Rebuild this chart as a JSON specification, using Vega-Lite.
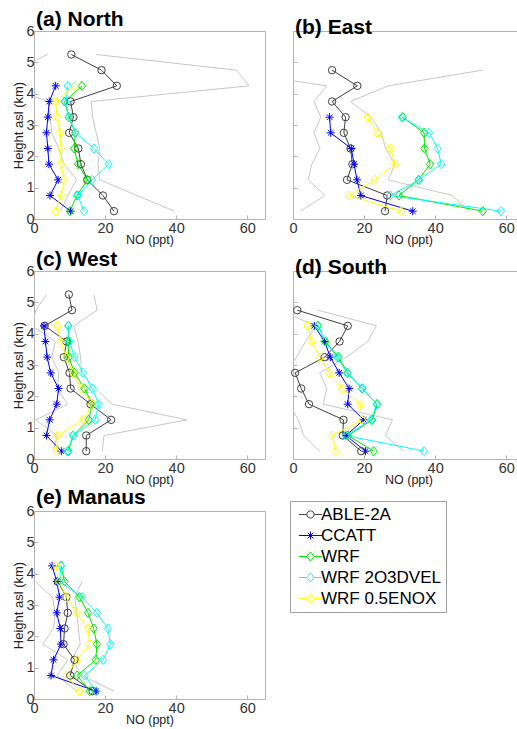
{
"$schema": "https://vega.github.io/schema/vega-lite/v6.json",
"padding": {"left": 12, "top": 8, "right": 0, "bottom": 0},
"datasets": {
"prof": [
{"p":"a","s":"ABLE-2A","h":0.25,"no":22.5},{"p":"a","s":"ABLE-2A","h":0.75,"no":19.4},{"p":"a","s":"ABLE-2A","h":1.25,"no":15.0},{"p":"a","s":"ABLE-2A","h":1.75,"no":13.2},{"p":"a","s":"ABLE-2A","h":2.25,"no":12.5},{"p":"a","s":"ABLE-2A","h":2.75,"no":9.9},{"p":"a","s":"ABLE-2A","h":3.25,"no":11.1},{"p":"a","s":"ABLE-2A","h":3.75,"no":10.3},{"p":"a","s":"ABLE-2A","h":4.25,"no":23.3},{"p":"a","s":"ABLE-2A","h":4.75,"no":19.0},{"p":"a","s":"ABLE-2A","h":5.25,"no":10.5},
{"p":"a","s":"CCATT","h":0.25,"no":10.3},{"p":"a","s":"CCATT","h":0.75,"no":4.5},{"p":"a","s":"CCATT","h":1.25,"no":6.8},{"p":"a","s":"CCATT","h":1.75,"no":4.2},{"p":"a","s":"CCATT","h":2.25,"no":3.9},{"p":"a","s":"CCATT","h":2.75,"no":3.5},{"p":"a","s":"CCATT","h":3.25,"no":3.9},{"p":"a","s":"CCATT","h":3.75,"no":4.3},{"p":"a","s":"CCATT","h":4.25,"no":6.1},
{"p":"a","s":"WRF","h":0.25,"no":10.1},{"p":"a","s":"WRF","h":0.75,"no":12.1},{"p":"a","s":"WRF","h":1.25,"no":15.0},{"p":"a","s":"WRF","h":1.75,"no":12.4},{"p":"a","s":"WRF","h":2.25,"no":11.3},{"p":"a","s":"WRF","h":2.75,"no":11.6},{"p":"a","s":"WRF","h":3.25,"no":9.8},{"p":"a","s":"WRF","h":3.75,"no":8.6},{"p":"a","s":"WRF","h":4.25,"no":13.5},
{"p":"a","s":"WRF 2O3DVEL","h":0.25,"no":14.1},{"p":"a","s":"WRF 2O3DVEL","h":0.75,"no":12.3},{"p":"a","s":"WRF 2O3DVEL","h":1.25,"no":16.4},{"p":"a","s":"WRF 2O3DVEL","h":1.75,"no":21.0},{"p":"a","s":"WRF 2O3DVEL","h":2.25,"no":16.9},{"p":"a","s":"WRF 2O3DVEL","h":2.75,"no":11.7},{"p":"a","s":"WRF 2O3DVEL","h":3.25,"no":9.7},{"p":"a","s":"WRF 2O3DVEL","h":3.75,"no":9.0},{"p":"a","s":"WRF 2O3DVEL","h":4.25,"no":9.5},
{"p":"a","s":"WRF 0.5ENOX","h":0.25,"no":6.1},{"p":"a","s":"WRF 0.5ENOX","h":0.75,"no":7.6},{"p":"a","s":"WRF 0.5ENOX","h":1.25,"no":8.5},{"p":"a","s":"WRF 0.5ENOX","h":1.75,"no":7.6},{"p":"a","s":"WRF 0.5ENOX","h":2.25,"no":7.6},{"p":"a","s":"WRF 0.5ENOX","h":2.75,"no":7.4},{"p":"a","s":"WRF 0.5ENOX","h":3.25,"no":6.5},{"p":"a","s":"WRF 0.5ENOX","h":3.75,"no":6.1},{"p":"a","s":"WRF 0.5ENOX","h":4.25,"no":11.4},

{"p":"b","s":"ABLE-2A","h":0.25,"no":25.9},{"p":"b","s":"ABLE-2A","h":0.75,"no":26.5},{"p":"b","s":"ABLE-2A","h":1.25,"no":15.2},{"p":"b","s":"ABLE-2A","h":1.75,"no":16.7},{"p":"b","s":"ABLE-2A","h":2.25,"no":16.2},{"p":"b","s":"ABLE-2A","h":2.75,"no":14.3},{"p":"b","s":"ABLE-2A","h":3.25,"no":14.8},{"p":"b","s":"ABLE-2A","h":3.75,"no":11.0},{"p":"b","s":"ABLE-2A","h":4.25,"no":18.1},{"p":"b","s":"ABLE-2A","h":4.75,"no":11.0},
{"p":"b","s":"CCATT","h":0.25,"no":33.7},{"p":"b","s":"CCATT","h":0.75,"no":19.1},{"p":"b","s":"CCATT","h":1.25,"no":18.0},{"p":"b","s":"CCATT","h":1.75,"no":17.2},{"p":"b","s":"CCATT","h":2.25,"no":16.4},{"p":"b","s":"CCATT","h":2.75,"no":10.6},{"p":"b","s":"CCATT","h":3.25,"no":10.3},
{"p":"b","s":"WRF","h":0.25,"no":53.4},{"p":"b","s":"WRF","h":0.75,"no":29.8},{"p":"b","s":"WRF","h":1.25,"no":35.3},{"p":"b","s":"WRF","h":1.75,"no":38.6},{"p":"b","s":"WRF","h":2.25,"no":37.0},{"p":"b","s":"WRF","h":2.75,"no":36.9},{"p":"b","s":"WRF","h":3.25,"no":30.9},
{"p":"b","s":"WRF 2O3DVEL","h":0.25,"no":58.5},{"p":"b","s":"WRF 2O3DVEL","h":0.75,"no":27.4},{"p":"b","s":"WRF 2O3DVEL","h":1.25,"no":35.5},{"p":"b","s":"WRF 2O3DVEL","h":1.75,"no":41.7},{"p":"b","s":"WRF 2O3DVEL","h":2.25,"no":40.7},{"p":"b","s":"WRF 2O3DVEL","h":2.75,"no":38.3},{"p":"b","s":"WRF 2O3DVEL","h":3.25,"no":30.6},
{"p":"b","s":"WRF 0.5ENOX","h":0.25,"no":30.4},{"p":"b","s":"WRF 0.5ENOX","h":0.75,"no":15.7},{"p":"b","s":"WRF 0.5ENOX","h":1.25,"no":23.0},{"p":"b","s":"WRF 0.5ENOX","h":1.75,"no":28.7},{"p":"b","s":"WRF 0.5ENOX","h":2.25,"no":27.4},{"p":"b","s":"WRF 0.5ENOX","h":2.75,"no":23.7},{"p":"b","s":"WRF 0.5ENOX","h":3.25,"no":21.0},

{"p":"c","s":"ABLE-2A","h":0.25,"no":14.7},{"p":"c","s":"ABLE-2A","h":0.75,"no":14.7},{"p":"c","s":"ABLE-2A","h":1.25,"no":21.7},{"p":"c","s":"ABLE-2A","h":1.75,"no":15.9},{"p":"c","s":"ABLE-2A","h":2.25,"no":10.3},{"p":"c","s":"ABLE-2A","h":2.75,"no":10.0},{"p":"c","s":"ABLE-2A","h":3.25,"no":8.4},{"p":"c","s":"ABLE-2A","h":3.75,"no":9.2},{"p":"c","s":"ABLE-2A","h":4.25,"no":3.0},{"p":"c","s":"ABLE-2A","h":4.75,"no":10.7},{"p":"c","s":"ABLE-2A","h":5.25,"no":9.8},
{"p":"c","s":"CCATT","h":0.25,"no":7.7},{"p":"c","s":"CCATT","h":0.75,"no":3.5},{"p":"c","s":"CCATT","h":1.25,"no":4.4},{"p":"c","s":"CCATT","h":1.75,"no":6.4},{"p":"c","s":"CCATT","h":2.25,"no":6.9},{"p":"c","s":"CCATT","h":2.75,"no":4.7},{"p":"c","s":"CCATT","h":3.25,"no":3.7},{"p":"c","s":"CCATT","h":3.75,"no":3.2},{"p":"c","s":"CCATT","h":4.25,"no":2.8},
{"p":"c","s":"WRF","h":0.25,"no":9.7},{"p":"c","s":"WRF","h":0.75,"no":11.0},{"p":"c","s":"WRF","h":1.25,"no":15.4},{"p":"c","s":"WRF","h":1.75,"no":16.4},{"p":"c","s":"WRF","h":2.25,"no":14.2},{"p":"c","s":"WRF","h":2.75,"no":11.4},{"p":"c","s":"WRF","h":3.25,"no":9.8},{"p":"c","s":"WRF","h":3.75,"no":9.6},{"p":"c","s":"WRF","h":4.25,"no":9.7},
{"p":"c","s":"WRF 2O3DVEL","h":0.25,"no":9.4},{"p":"c","s":"WRF 2O3DVEL","h":0.75,"no":11.0},{"p":"c","s":"WRF 2O3DVEL","h":1.25,"no":17.2},{"p":"c","s":"WRF 2O3DVEL","h":1.75,"no":18.2},{"p":"c","s":"WRF 2O3DVEL","h":2.25,"no":16.4},{"p":"c","s":"WRF 2O3DVEL","h":2.75,"no":13.8},{"p":"c","s":"WRF 2O3DVEL","h":3.25,"no":11.4},{"p":"c","s":"WRF 2O3DVEL","h":3.75,"no":10.0},{"p":"c","s":"WRF 2O3DVEL","h":4.25,"no":9.6},
{"p":"c","s":"WRF 0.5ENOX","h":0.25,"no":6.3},{"p":"c","s":"WRF 0.5ENOX","h":0.75,"no":6.7},{"p":"c","s":"WRF 0.5ENOX","h":1.25,"no":13.8},{"p":"c","s":"WRF 0.5ENOX","h":1.75,"no":16.3},{"p":"c","s":"WRF 0.5ENOX","h":2.25,"no":13.3},{"p":"c","s":"WRF 0.5ENOX","h":2.75,"no":11.0},{"p":"c","s":"WRF 0.5ENOX","h":3.25,"no":9.1},{"p":"c","s":"WRF 0.5ENOX","h":3.75,"no":7.5},{"p":"c","s":"WRF 0.5ENOX","h":4.25,"no":6.6},

{"p":"d","s":"ABLE-2A","h":0.25,"no":19.2},{"p":"d","s":"ABLE-2A","h":0.75,"no":14.0},{"p":"d","s":"ABLE-2A","h":1.25,"no":14.2},{"p":"d","s":"ABLE-2A","h":1.75,"no":4.5},{"p":"d","s":"ABLE-2A","h":2.25,"no":2.3},{"p":"d","s":"ABLE-2A","h":2.75,"no":0.6},{"p":"d","s":"ABLE-2A","h":3.25,"no":8.9},{"p":"d","s":"ABLE-2A","h":3.75,"no":13.1},{"p":"d","s":"ABLE-2A","h":4.25,"no":15.4},{"p":"d","s":"ABLE-2A","h":4.75,"no":1.2},
{"p":"d","s":"CCATT","h":0.25,"no":20.4},{"p":"d","s":"CCATT","h":0.75,"no":14.9},{"p":"d","s":"CCATT","h":1.25,"no":19.9},{"p":"d","s":"CCATT","h":1.75,"no":15.4},{"p":"d","s":"CCATT","h":2.25,"no":15.8},{"p":"d","s":"CCATT","h":2.75,"no":13.0},{"p":"d","s":"CCATT","h":3.25,"no":10.5},{"p":"d","s":"CCATT","h":3.75,"no":8.9},{"p":"d","s":"CCATT","h":4.25,"no":6.0},
{"p":"d","s":"WRF","h":0.25,"no":22.7},{"p":"d","s":"WRF","h":0.75,"no":15.5},{"p":"d","s":"WRF","h":1.25,"no":22.3},{"p":"d","s":"WRF","h":1.75,"no":23.7},{"p":"d","s":"WRF","h":2.25,"no":19.4},{"p":"d","s":"WRF","h":2.75,"no":15.4},{"p":"d","s":"WRF","h":3.25,"no":12.8},{"p":"d","s":"WRF","h":3.75,"no":9.1},{"p":"d","s":"WRF","h":4.25,"no":7.0},
{"p":"d","s":"WRF 2O3DVEL","h":0.25,"no":36.9},{"p":"d","s":"WRF 2O3DVEL","h":0.75,"no":14.9},{"p":"d","s":"WRF 2O3DVEL","h":1.25,"no":22.0},{"p":"d","s":"WRF 2O3DVEL","h":1.75,"no":23.5},{"p":"d","s":"WRF 2O3DVEL","h":2.25,"no":19.6},{"p":"d","s":"WRF 2O3DVEL","h":2.75,"no":15.2},{"p":"d","s":"WRF 2O3DVEL","h":3.25,"no":12.4},{"p":"d","s":"WRF 2O3DVEL","h":3.75,"no":8.9},{"p":"d","s":"WRF 2O3DVEL","h":4.25,"no":7.2},
{"p":"d","s":"WRF 0.5ENOX","h":0.25,"no":12.1},{"p":"d","s":"WRF 0.5ENOX","h":0.75,"no":11.1},{"p":"d","s":"WRF 0.5ENOX","h":1.25,"no":19.4},{"p":"d","s":"WRF 0.5ENOX","h":1.75,"no":19.0},{"p":"d","s":"WRF 0.5ENOX","h":2.25,"no":13.8},{"p":"d","s":"WRF 0.5ENOX","h":2.75,"no":10.2},{"p":"d","s":"WRF 0.5ENOX","h":3.25,"no":7.6},{"p":"d","s":"WRF 0.5ENOX","h":3.75,"no":5.3},{"p":"d","s":"WRF 0.5ENOX","h":4.25,"no":4.1},

{"p":"e","s":"ABLE-2A","h":0.25,"no":16.5},{"p":"e","s":"ABLE-2A","h":0.75,"no":10.2},{"p":"e","s":"ABLE-2A","h":1.25,"no":11.4},{"p":"e","s":"ABLE-2A","h":1.75,"no":8.3},{"p":"e","s":"ABLE-2A","h":2.25,"no":8.6},{"p":"e","s":"ABLE-2A","h":2.75,"no":9.5},{"p":"e","s":"ABLE-2A","h":3.25,"no":9.1},{"p":"e","s":"ABLE-2A","h":3.75,"no":6.7},
{"p":"e","s":"CCATT","h":0.25,"no":17.5},{"p":"e","s":"CCATT","h":0.75,"no":4.8},{"p":"e","s":"CCATT","h":1.25,"no":5.5},{"p":"e","s":"CCATT","h":1.75,"no":7.6},{"p":"e","s":"CCATT","h":2.25,"no":7.4},{"p":"e","s":"CCATT","h":2.75,"no":6.4},{"p":"e","s":"CCATT","h":3.25,"no":7.2},{"p":"e","s":"CCATT","h":3.75,"no":6.4},{"p":"e","s":"CCATT","h":4.25,"no":5.1},
{"p":"e","s":"WRF","h":0.25,"no":15.7},{"p":"e","s":"WRF","h":0.75,"no":12.1},{"p":"e","s":"WRF","h":1.25,"no":17.4},{"p":"e","s":"WRF","h":1.75,"no":17.7},{"p":"e","s":"WRF","h":2.25,"no":16.8},{"p":"e","s":"WRF","h":2.75,"no":15.2},{"p":"e","s":"WRF","h":3.25,"no":12.8},{"p":"e","s":"WRF","h":3.75,"no":8.6},{"p":"e","s":"WRF","h":4.25,"no":7.6},
{"p":"e","s":"WRF 2O3DVEL","h":0.25,"no":17.5},{"p":"e","s":"WRF 2O3DVEL","h":0.75,"no":14.2},{"p":"e","s":"WRF 2O3DVEL","h":1.25,"no":19.4},{"p":"e","s":"WRF 2O3DVEL","h":1.75,"no":21.5},{"p":"e","s":"WRF 2O3DVEL","h":2.25,"no":20.8},{"p":"e","s":"WRF 2O3DVEL","h":2.75,"no":17.7},{"p":"e","s":"WRF 2O3DVEL","h":3.25,"no":13.6},{"p":"e","s":"WRF 2O3DVEL","h":3.75,"no":7.2},{"p":"e","s":"WRF 2O3DVEL","h":4.25,"no":7.6},
{"p":"e","s":"WRF 0.5ENOX","h":0.25,"no":12.8},{"p":"e","s":"WRF 0.5ENOX","h":0.75,"no":9.1},{"p":"e","s":"WRF 0.5ENOX","h":1.25,"no":12.1},{"p":"e","s":"WRF 0.5ENOX","h":1.75,"no":15.7},{"p":"e","s":"WRF 0.5ENOX","h":2.25,"no":15.2},{"p":"e","s":"WRF 0.5ENOX","h":2.75,"no":12.1},{"p":"e","s":"WRF 0.5ENOX","h":3.25,"no":9.1},{"p":"e","s":"WRF 0.5ENOX","h":3.75,"no":7.0},{"p":"e","s":"WRF 0.5ENOX","h":4.25,"no":6.2}
],
"env": [
{"p":"a","b":"lo","h":0.25,"no":7.5},{"p":"a","b":"lo","h":0.75,"no":9.5},{"p":"a","b":"lo","h":1.25,"no":12},{"p":"a","b":"lo","h":1.75,"no":8.5},{"p":"a","b":"lo","h":2.25,"no":7},{"p":"a","b":"lo","h":2.75,"no":5},{"p":"a","b":"lo","h":3.25,"no":4.5},{"p":"a","b":"lo","h":3.75,"no":3.9},{"p":"a","b":"lo","h":4.25,"no":-8},{"p":"a","b":"lo","h":4.75,"no":-5},{"p":"a","b":"lo","h":5.25,"no":3.8},
{"p":"a","b":"hi","h":0.25,"no":39.5},{"p":"a","b":"hi","h":0.75,"no":29},{"p":"a","b":"hi","h":1.25,"no":18.5},{"p":"a","b":"hi","h":1.75,"no":18},{"p":"a","b":"hi","h":2.25,"no":18.5},{"p":"a","b":"hi","h":2.75,"no":17.5},{"p":"a","b":"hi","h":3.25,"no":16.5},{"p":"a","b":"hi","h":3.75,"no":16.1},{"p":"a","b":"hi","h":4.25,"no":60.5},{"p":"a","b":"hi","h":4.75,"no":57},{"p":"a","b":"hi","h":5.25,"no":17.5},
{"p":"b","b":"lo","h":0.25,"no":2.0},{"p":"b","b":"lo","h":0.75,"no":9.0},{"p":"b","b":"lo","h":1.25,"no":4.3},{"p":"b","b":"lo","h":1.75,"no":5.3},{"p":"b","b":"lo","h":2.25,"no":7.6},{"p":"b","b":"lo","h":2.75,"no":5.9},{"p":"b","b":"lo","h":3.25,"no":7.8},{"p":"b","b":"lo","h":3.75,"no":5.9},{"p":"b","b":"lo","h":4.25,"no":9.5},{"p":"b","b":"lo","h":4.75,"no":-20},
{"p":"b","b":"hi","h":0.25,"no":49.5},{"p":"b","b":"hi","h":0.75,"no":44.8},{"p":"b","b":"hi","h":1.25,"no":26.8},{"p":"b","b":"hi","h":1.75,"no":28.7},{"p":"b","b":"hi","h":2.25,"no":26},{"p":"b","b":"hi","h":2.75,"no":24.9},{"p":"b","b":"hi","h":3.25,"no":21.9},{"p":"b","b":"hi","h":3.75,"no":16.2},{"p":"b","b":"hi","h":4.25,"no":26.8},{"p":"b","b":"hi","h":4.75,"no":53.3},
{"p":"c","b":"lo","h":0.25,"no":5.5},{"p":"c","b":"lo","h":0.75,"no":6.5},{"p":"c","b":"lo","h":1.25,"no":0.5},{"p":"c","b":"lo","h":1.75,"no":9.5},{"p":"c","b":"lo","h":2.25,"no":6.5},{"p":"c","b":"lo","h":2.75,"no":7.0},{"p":"c","b":"lo","h":3.25,"no":5.0},{"p":"c","b":"lo","h":3.75,"no":6.0},{"p":"c","b":"lo","h":4.25,"no":-0.5},{"p":"c","b":"lo","h":4.75,"no":0.5},{"p":"c","b":"lo","h":5.25,"no":3.5},
{"p":"c","b":"hi","h":0.25,"no":19.2},{"p":"c","b":"hi","h":0.75,"no":19.7},{"p":"c","b":"hi","h":1.25,"no":43},{"p":"c","b":"hi","h":1.75,"no":22},{"p":"c","b":"hi","h":2.25,"no":17.4},{"p":"c","b":"hi","h":2.75,"no":13.4},{"p":"c","b":"hi","h":3.25,"no":13.1},{"p":"c","b":"hi","h":3.75,"no":12.4},{"p":"c","b":"hi","h":4.25,"no":11.2},{"p":"c","b":"hi","h":4.75,"no":17.8},{"p":"c","b":"hi","h":5.25,"no":16.8},
{"p":"d","b":"lo","h":0.25,"no":7.5},{"p":"d","b":"lo","h":0.75,"no":3},{"p":"d","b":"lo","h":1.25,"no":1.5},{"p":"d","b":"lo","h":1.75,"no":-1},{"p":"d","b":"lo","h":2.25,"no":-3},{"p":"d","b":"lo","h":2.75,"no":-2},{"p":"d","b":"lo","h":3.25,"no":1},{"p":"d","b":"lo","h":3.75,"no":3.5},{"p":"d","b":"lo","h":4.25,"no":6.5},{"p":"d","b":"lo","h":4.75,"no":-4},
{"p":"d","b":"hi","h":0.25,"no":31},{"p":"d","b":"hi","h":0.75,"no":26},{"p":"d","b":"hi","h":1.25,"no":28},{"p":"d","b":"hi","h":1.75,"no":8.5},{"p":"d","b":"hi","h":2.25,"no":9.5},{"p":"d","b":"hi","h":2.75,"no":7.5},{"p":"d","b":"hi","h":3.25,"no":15},{"p":"d","b":"hi","h":3.75,"no":21},{"p":"d","b":"hi","h":4.25,"no":23.5},{"p":"d","b":"hi","h":4.75,"no":7.0},
{"p":"e","b":"lo","h":0.25,"no":12},{"p":"e","b":"lo","h":0.75,"no":6.5},{"p":"e","b":"lo","h":1.25,"no":9.5},{"p":"e","b":"lo","h":1.75,"no":2.5},{"p":"e","b":"lo","h":2.25,"no":5.5},{"p":"e","b":"lo","h":2.75,"no":6},{"p":"e","b":"lo","h":3.25,"no":5.2},{"p":"e","b":"lo","h":3.75,"no":0.4},
{"p":"e","b":"hi","h":0.25,"no":22.5},{"p":"e","b":"hi","h":0.75,"no":13.5},{"p":"e","b":"hi","h":1.25,"no":10.5},{"p":"e","b":"hi","h":1.75,"no":13},{"p":"e","b":"hi","h":2.25,"no":12.5},{"p":"e","b":"hi","h":2.75,"no":12},{"p":"e","b":"hi","h":3.25,"no":11.5},{"p":"e","b":"hi","h":3.75,"no":13.5}
]
},
"bounds": "flush",
"columns": 2,
"spacing": {"row": 52, "column": 28},
"resolve": {"scale": {"stroke": "independent", "shape": "independent"}, "legend": {"stroke": "independent", "shape": "independent"}},
"concat": [
{"width": 231, "height": 188, "title": {"text": "(a) North"},
 "layer": [
  {"data": {"name": "env"}, "transform": [{"filter": "datum.p == 'a'"}], "mark": {"type": "line", "color": "#c8c8c8", "strokeWidth": 1, "clip": true},
   "encoding": {"x": {"field": "no", "type": "quantitative", "scale": {"domain": [0, 65], "nice": false, "zero": false}, "axis": {"values": [0, 20, 40, 60], "title": "NO (ppt)"}},
     "y": {"field": "h", "type": "quantitative", "scale": {"domain": [0, 6], "nice": false}, "axis": {"values": [0, 1, 2, 3, 4, 5, 6], "tickCount": 7, "labelOverlap": false, "format": "d", "title": "Height asl (km)"}},
     "detail": {"field": "b"}, "order": {"field": "h"}}},
  {"data": {"name": "prof"}, "transform": [{"filter": "datum.p == 'a'"}], "mark": {"type": "line", "strokeWidth": 1, "clip": true},
   "encoding": {"x": {"field": "no", "type": "quantitative"}, "y": {"field": "h", "type": "quantitative"},
     "color": {"field": "s", "type": "nominal", "scale": {"domain": ["ABLE-2A", "CCATT", "WRF", "WRF 2O3DVEL", "WRF 0.5ENOX"], "range": ["#404040", "#0000ff", "#00e600", "#00ffff", "#ffff00"]}, "legend": null},
     "order": {"field": "h"}}},
  {"data": {"name": "prof"}, "transform": [{"filter": "datum.p == 'a' && datum.s == 'ABLE-2A'"}], "mark": {"type": "point", "shape": "circle", "size": 55, "filled": false, "strokeWidth": 1, "opacity": 1},
   "encoding": {"x": {"field": "no", "type": "quantitative"}, "y": {"field": "h", "type": "quantitative"}, "color": {"field": "s", "type": "nominal", "legend": null}}},
  {"data": {"name": "prof"}, "transform": [{"filter": "datum.p == 'a' && datum.s == 'CCATT'"}], "mark": {"type": "point", "shape": "M-1,0L1,0M0,-1L0,1M-0.7,-0.7L0.7,0.7M-0.7,0.7L0.7,-0.7", "size": 64, "filled": false, "strokeWidth": 1, "opacity": 1},
   "encoding": {"x": {"field": "no", "type": "quantitative"}, "y": {"field": "h", "type": "quantitative"}, "color": {"field": "s", "type": "nominal", "legend": null}}},
  {"data": {"name": "prof"}, "transform": [{"filter": "datum.p == 'a' && datum.s != 'ABLE-2A' && datum.s != 'CCATT'"}], "mark": {"type": "point", "shape": "M-0.9,0L0,-1.15L0.9,0L0,1.15Z", "size": 64, "filled": false, "strokeWidth": 1, "opacity": 1},
   "encoding": {"x": {"field": "no", "type": "quantitative"}, "y": {"field": "h", "type": "quantitative"}, "color": {"field": "s", "type": "nominal", "legend": null}}}
 ]},
{"width": 231, "height": 188, "title": {"text": "(b) East"},
 "layer": [
  {"data": {"name": "env"}, "transform": [{"filter": "datum.p == 'b'"}], "mark": {"type": "line", "color": "#c8c8c8", "strokeWidth": 1, "clip": true},
   "encoding": {"x": {"field": "no", "type": "quantitative", "scale": {"domain": [0, 65], "nice": false, "zero": false}, "axis": {"values": [0, 20, 40, 60], "title": "NO (ppt)"}},
     "y": {"field": "h", "type": "quantitative", "scale": {"domain": [0, 6], "nice": false}, "axis": {"values": [0, 1, 2, 3, 4, 5, 6], "tickCount": 7, "title": null, "labels": false}},
     "detail": {"field": "b"}, "order": {"field": "h"}}},
  {"data": {"name": "prof"}, "transform": [{"filter": "datum.p == 'b'"}], "mark": {"type": "line", "strokeWidth": 1, "clip": true},
   "encoding": {"x": {"field": "no", "type": "quantitative"}, "y": {"field": "h", "type": "quantitative"},
     "color": {"field": "s", "type": "nominal", "scale": {"domain": ["ABLE-2A", "CCATT", "WRF", "WRF 2O3DVEL", "WRF 0.5ENOX"], "range": ["#404040", "#0000ff", "#00e600", "#00ffff", "#ffff00"]}, "legend": null},
     "order": {"field": "h"}}},
  {"data": {"name": "prof"}, "transform": [{"filter": "datum.p == 'b' && datum.s == 'ABLE-2A'"}], "mark": {"type": "point", "shape": "circle", "size": 55, "filled": false, "strokeWidth": 1, "opacity": 1},
   "encoding": {"x": {"field": "no", "type": "quantitative"}, "y": {"field": "h", "type": "quantitative"}, "color": {"field": "s", "type": "nominal", "legend": null}}},
  {"data": {"name": "prof"}, "transform": [{"filter": "datum.p == 'b' && datum.s == 'CCATT'"}], "mark": {"type": "point", "shape": "M-1,0L1,0M0,-1L0,1M-0.7,-0.7L0.7,0.7M-0.7,0.7L0.7,-0.7", "size": 64, "filled": false, "strokeWidth": 1, "opacity": 1},
   "encoding": {"x": {"field": "no", "type": "quantitative"}, "y": {"field": "h", "type": "quantitative"}, "color": {"field": "s", "type": "nominal", "legend": null}}},
  {"data": {"name": "prof"}, "transform": [{"filter": "datum.p == 'b' && datum.s != 'ABLE-2A' && datum.s != 'CCATT'"}], "mark": {"type": "point", "shape": "M-0.9,0L0,-1.15L0.9,0L0,1.15Z", "size": 64, "filled": false, "strokeWidth": 1, "opacity": 1},
   "encoding": {"x": {"field": "no", "type": "quantitative"}, "y": {"field": "h", "type": "quantitative"}, "color": {"field": "s", "type": "nominal", "legend": null}}}
 ]},
{"width": 231, "height": 188, "title": {"text": "(c) West"},
 "layer": [
  {"data": {"name": "env"}, "transform": [{"filter": "datum.p == 'c'"}], "mark": {"type": "line", "color": "#c8c8c8", "strokeWidth": 1, "clip": true},
   "encoding": {"x": {"field": "no", "type": "quantitative", "scale": {"domain": [0, 65], "nice": false, "zero": false}, "axis": {"values": [0, 20, 40, 60], "title": "NO (ppt)"}},
     "y": {"field": "h", "type": "quantitative", "scale": {"domain": [0, 6], "nice": false}, "axis": {"values": [0, 1, 2, 3, 4, 5, 6], "tickCount": 7, "labelOverlap": false, "format": "d", "title": "Height asl (km)"}},
     "detail": {"field": "b"}, "order": {"field": "h"}}},
  {"data": {"name": "prof"}, "transform": [{"filter": "datum.p == 'c'"}], "mark": {"type": "line", "strokeWidth": 1, "clip": true},
   "encoding": {"x": {"field": "no", "type": "quantitative"}, "y": {"field": "h", "type": "quantitative"},
     "color": {"field": "s", "type": "nominal", "scale": {"domain": ["ABLE-2A", "CCATT", "WRF", "WRF 2O3DVEL", "WRF 0.5ENOX"], "range": ["#404040", "#0000ff", "#00e600", "#00ffff", "#ffff00"]}, "legend": null},
     "order": {"field": "h"}}},
  {"data": {"name": "prof"}, "transform": [{"filter": "datum.p == 'c' && datum.s == 'ABLE-2A'"}], "mark": {"type": "point", "shape": "circle", "size": 55, "filled": false, "strokeWidth": 1, "opacity": 1},
   "encoding": {"x": {"field": "no", "type": "quantitative"}, "y": {"field": "h", "type": "quantitative"}, "color": {"field": "s", "type": "nominal", "legend": null}}},
  {"data": {"name": "prof"}, "transform": [{"filter": "datum.p == 'c' && datum.s == 'CCATT'"}], "mark": {"type": "point", "shape": "M-1,0L1,0M0,-1L0,1M-0.7,-0.7L0.7,0.7M-0.7,0.7L0.7,-0.7", "size": 64, "filled": false, "strokeWidth": 1, "opacity": 1},
   "encoding": {"x": {"field": "no", "type": "quantitative"}, "y": {"field": "h", "type": "quantitative"}, "color": {"field": "s", "type": "nominal", "legend": null}}},
  {"data": {"name": "prof"}, "transform": [{"filter": "datum.p == 'c' && datum.s != 'ABLE-2A' && datum.s != 'CCATT'"}], "mark": {"type": "point", "shape": "M-0.9,0L0,-1.15L0.9,0L0,1.15Z", "size": 64, "filled": false, "strokeWidth": 1, "opacity": 1},
   "encoding": {"x": {"field": "no", "type": "quantitative"}, "y": {"field": "h", "type": "quantitative"}, "color": {"field": "s", "type": "nominal", "legend": null}}}
 ]},
{"width": 231, "height": 188, "title": {"text": "(d) South"},
 "layer": [
  {"data": {"name": "env"}, "transform": [{"filter": "datum.p == 'd'"}], "mark": {"type": "line", "color": "#c8c8c8", "strokeWidth": 1, "clip": true},
   "encoding": {"x": {"field": "no", "type": "quantitative", "scale": {"domain": [0, 65], "nice": false, "zero": false}, "axis": {"values": [0, 20, 40, 60], "title": "NO (ppt)"}},
     "y": {"field": "h", "type": "quantitative", "scale": {"domain": [0, 6], "nice": false}, "axis": {"values": [0, 1, 2, 3, 4, 5, 6], "tickCount": 7, "title": null, "labels": false}},
     "detail": {"field": "b"}, "order": {"field": "h"}}},
  {"data": {"name": "prof"}, "transform": [{"filter": "datum.p == 'd'"}], "mark": {"type": "line", "strokeWidth": 1, "clip": true},
   "encoding": {"x": {"field": "no", "type": "quantitative"}, "y": {"field": "h", "type": "quantitative"},
     "color": {"field": "s", "type": "nominal", "scale": {"domain": ["ABLE-2A", "CCATT", "WRF", "WRF 2O3DVEL", "WRF 0.5ENOX"], "range": ["#404040", "#0000ff", "#00e600", "#00ffff", "#ffff00"]}, "legend": null},
     "order": {"field": "h"}}},
  {"data": {"name": "prof"}, "transform": [{"filter": "datum.p == 'd' && datum.s == 'ABLE-2A'"}], "mark": {"type": "point", "shape": "circle", "size": 55, "filled": false, "strokeWidth": 1, "opacity": 1},
   "encoding": {"x": {"field": "no", "type": "quantitative"}, "y": {"field": "h", "type": "quantitative"}, "color": {"field": "s", "type": "nominal", "legend": null}}},
  {"data": {"name": "prof"}, "transform": [{"filter": "datum.p == 'd' && datum.s == 'CCATT'"}], "mark": {"type": "point", "shape": "M-1,0L1,0M0,-1L0,1M-0.7,-0.7L0.7,0.7M-0.7,0.7L0.7,-0.7", "size": 64, "filled": false, "strokeWidth": 1, "opacity": 1},
   "encoding": {"x": {"field": "no", "type": "quantitative"}, "y": {"field": "h", "type": "quantitative"}, "color": {"field": "s", "type": "nominal", "legend": null}}},
  {"data": {"name": "prof"}, "transform": [{"filter": "datum.p == 'd' && datum.s != 'ABLE-2A' && datum.s != 'CCATT'"}], "mark": {"type": "point", "shape": "M-0.9,0L0,-1.15L0.9,0L0,1.15Z", "size": 64, "filled": false, "strokeWidth": 1, "opacity": 1},
   "encoding": {"x": {"field": "no", "type": "quantitative"}, "y": {"field": "h", "type": "quantitative"}, "color": {"field": "s", "type": "nominal", "legend": null}}}
 ]},
{"width": 231, "height": 188, "title": {"text": "(e) Manaus"},
 "layer": [
  {"data": {"name": "env"}, "transform": [{"filter": "datum.p == 'e'"}], "mark": {"type": "line", "color": "#c8c8c8", "strokeWidth": 1, "clip": true},
   "encoding": {"x": {"field": "no", "type": "quantitative", "scale": {"domain": [0, 65], "nice": false, "zero": false}, "axis": {"values": [0, 20, 40, 60], "title": "NO (ppt)"}},
     "y": {"field": "h", "type": "quantitative", "scale": {"domain": [0, 6], "nice": false}, "axis": {"values": [0, 1, 2, 3, 4, 5, 6], "tickCount": 7, "labelOverlap": false, "format": "d", "title": "Height asl (km)"}},
     "detail": {"field": "b"}, "order": {"field": "h"}}},
  {"data": {"name": "prof"}, "transform": [{"filter": "datum.p == 'e'"}], "mark": {"type": "line", "strokeWidth": 1, "clip": true},
   "encoding": {"x": {"field": "no", "type": "quantitative"}, "y": {"field": "h", "type": "quantitative"},
     "color": {"field": "s", "type": "nominal", "scale": {"domain": ["ABLE-2A", "CCATT", "WRF", "WRF 2O3DVEL", "WRF 0.5ENOX"], "range": ["#404040", "#0000ff", "#00e600", "#00ffff", "#ffff00"]}, "legend": null},
     "order": {"field": "h"}}},
  {"data": {"name": "prof"}, "transform": [{"filter": "datum.p == 'e' && datum.s == 'ABLE-2A'"}], "mark": {"type": "point", "shape": "circle", "size": 55, "filled": false, "strokeWidth": 1, "opacity": 1},
   "encoding": {"x": {"field": "no", "type": "quantitative"}, "y": {"field": "h", "type": "quantitative"}, "color": {"field": "s", "type": "nominal", "legend": null}}},
  {"data": {"name": "prof"}, "transform": [{"filter": "datum.p == 'e' && datum.s == 'CCATT'"}], "mark": {"type": "point", "shape": "M-1,0L1,0M0,-1L0,1M-0.7,-0.7L0.7,0.7M-0.7,0.7L0.7,-0.7", "size": 64, "filled": false, "strokeWidth": 1, "opacity": 1},
   "encoding": {"x": {"field": "no", "type": "quantitative"}, "y": {"field": "h", "type": "quantitative"}, "color": {"field": "s", "type": "nominal", "legend": null}}},
  {"data": {"name": "prof"}, "transform": [{"filter": "datum.p == 'e' && datum.s != 'ABLE-2A' && datum.s != 'CCATT'"}], "mark": {"type": "point", "shape": "M-0.9,0L0,-1.15L0.9,0L0,1.15Z", "size": 64, "filled": false, "strokeWidth": 1, "opacity": 1},
   "encoding": {"x": {"field": "no", "type": "quantitative"}, "y": {"field": "h", "type": "quantitative"}, "color": {"field": "s", "type": "nominal", "legend": null}}},
  {"data": {"name": "prof"}, "transform": [{"filter": "datum.p == 'e'"}], "mark": {"type": "point", "filled": false, "opacity": 0, "strokeWidth": 1},
   "encoding": {"x": {"field": "no", "type": "quantitative"}, "y": {"field": "h", "type": "quantitative"},
     "stroke": {"field": "s", "type": "nominal", "scale": {"domain": ["ABLE-2A", "CCATT", "WRF", "WRF 2O3DVEL", "WRF 0.5ENOX"], "range": ["#404040", "#0000ff", "#00e600", "#00ffff", "#ffff00"]},
       "legend": {"orient": "none", "legendX": 256, "legendY": -10, "title": null, "symbolOpacity": 1}},
     "shape": {"field": "s", "type": "nominal", "scale": {"domain": ["ABLE-2A", "CCATT", "WRF", "WRF 2O3DVEL", "WRF 0.5ENOX"], "range": ["M-2.9,0L-0.9,0M0.9,0L2.9,0M0.9,0A0.9,0.9 0 1,1 -0.9,0A0.9,0.9 0 1,1 0.9,0", "M-2.9,0L2.9,0M0,-1L0,1M-0.7,-0.7L0.7,0.7M-0.7,0.7L0.7,-0.7", "M-2.9,0L-0.9,0M0.9,0L2.9,0M-0.9,0L0,-1.15L0.9,0L0,1.15Z", "M-2.9,0L-0.9,0M0.9,0L2.9,0M-0.9,0L0,-1.15L0.9,0L0,1.15Z", "M-2.9,0L-0.9,0M0.9,0L2.9,0M-0.9,0L0,-1.15L0.9,0L0,1.15Z"]},
       "legend": {"orient": "none", "legendX": 256, "legendY": -10, "title": null, "symbolOpacity": 1}}}}
 ]}
],
"config": {
 "font": "Liberation Sans",
 "view": {"stroke": "#b4b4b4", "strokeWidth": 1},
 "axis": {"grid": false, "domain": false, "ticks": true, "tickSize": -4, "tickColor": "#b4b4b4", "labelFontSize": 14.5, "labelColor": "#333333", "labelFont": "Liberation Sans", "labelOverlap": false, "labelFlush": false, "titleFont": "Liberation Sans", "titleFontWeight": "normal", "titleColor": "#222222"},
 "axisX": {"labelPadding": 6, "titleFontSize": 12.5, "titlePadding": -1},
 "axisY": {"labelPadding": 4, "titleFontSize": 13, "titlePadding": 0},
 "title": {"font": "Liberation Sans", "fontSize": 21, "fontWeight": "bold", "anchor": "start", "frame": "group", "color": "#000000", "offset": -7, "dx": 2},
 "legend": {"labelFont": "Liberation Sans", "labelFontSize": 17, "labelColor": "#000000", "symbolSize": 64, "symbolStrokeWidth": 1, "strokeColor": "#a0a0a0", "fillColor": "#ffffff", "padding": 5, "rowPadding": 3, "labelOffset": 2, "symbolOffset": 7}
}
}
